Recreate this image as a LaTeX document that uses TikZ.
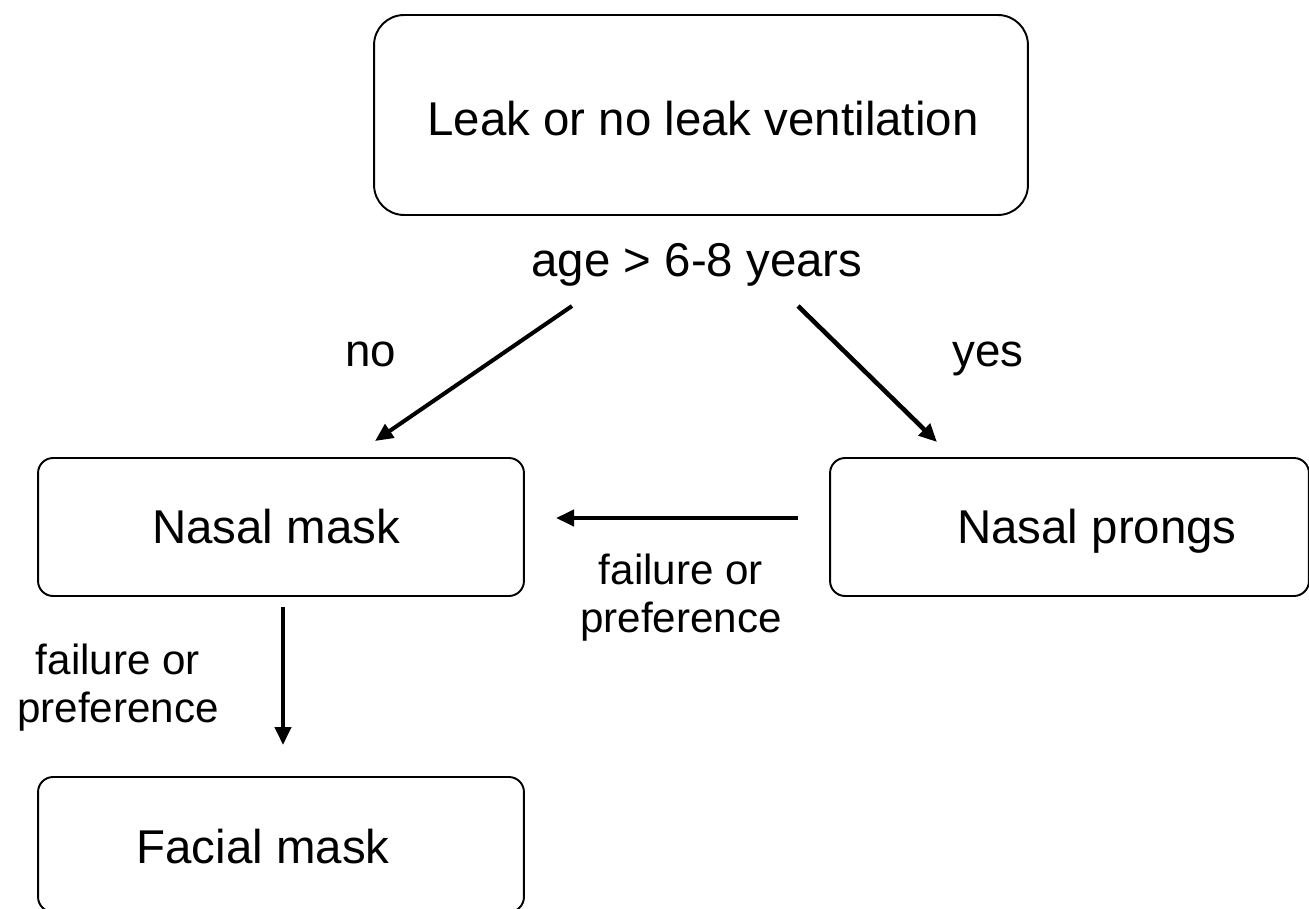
\documentclass[tikz,border=0pt]{standalone}
\usepackage{fontspec}
\setmainfont{Liberation Sans}
\usetikzlibrary{arrows.meta}
\begin{document}
\begin{tikzpicture}[x=0.02cm,y=-0.02cm,
  box/.style={draw=black, line width=1.1pt, rectangle, inner sep=0pt},
  boxtext/.style={font=\fontsize{27pt}{31pt}\selectfont, anchor=base, inner sep=0pt},
  lbl/.style={font=\fontsize{26pt}{30pt}\selectfont, anchor=base, inner sep=0pt},
  flbl/.style={font=\fontsize{24pt}{27.3pt}\selectfont, align=center, inner sep=0pt},
  conn/.style={line width=2.3pt, -{Triangle[length=0.36cm,width=0.32cm]}}]
\useasboundingbox (0,0) rectangle (1309,909);
\clip (0,0) rectangle (1309,909);
% boxes
\node[box, minimum width=13.08cm, minimum height=4cm, rounded corners=0.6cm] (top) at (701,115) {};
\node[box, minimum width=9.72cm, minimum height=2.76cm, rounded corners=0.3cm] (nmask) at (281,527) {};
\node[box, minimum width=9.58cm, minimum height=2.76cm, rounded corners=0.3cm] (prongs) at (1069.5,527) {};
\node[box, minimum width=9.72cm, minimum height=2.7cm, rounded corners=0.3cm] (fmask) at (281,844.5) {};
% box texts
\node[boxtext] (toptxt) at (703,135) {Leak or no leak ventilation};
\node[boxtext] (nmasktxt) at (276,543) {Nasal mask};
\node[boxtext] (prongstxt) at (1097,543) {Nasal prongs};
\node[boxtext] (fmasktxt) at (263,863) {Facial mask};
% labels
\node[lbl, font=\fontsize{27pt}{31pt}\selectfont] (age) at (697,276) {age > 6-8 years};
\node[lbl] (no) at (371,366) {no};
\node[lbl] (yes) at (988,366) {yes};
\node[flbl] (f1) at (681,598) {failure or\\preference};
\node[flbl] (f2) at (118,688) {failure or\\preference};
% connector ends
\coordinate (noS) at (572,306);
\coordinate (noE) at (375,441);
\coordinate (yesS) at (798,306);
\coordinate (yesE) at (937,442);
\coordinate (hS) at (798,518);
\coordinate (hE) at (556,518);
\coordinate (vS) at (283,607);
\coordinate (vE) at (283,745);
\draw[conn] (noS) -- (noE);
\draw[conn, line width=2.6pt] (yesS) -- (yesE);
\draw[conn] (hS) -- (hE);
\draw[conn] (vS) -- (vE);
\end{tikzpicture}
\end{document}
